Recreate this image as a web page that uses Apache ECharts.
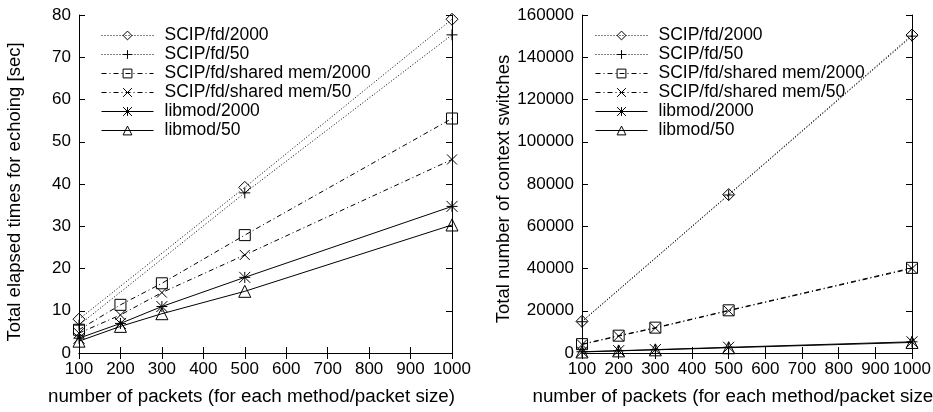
<!DOCTYPE html>
<html>
<head>
<meta charset="utf-8">
<script src="https://cdn.jsdelivr.net/npm/echarts@6/dist/echarts.min.js"></script>
<style>
html,body{margin:0;padding:0;background:#fff;}
#chart{width:933px;height:412px;}
</style>
</head>
<body>
<div id="chart"></div>
<script>
// ---- data ----
const seriesNames = ['SCIP/fd/2000','SCIP/fd/50','SCIP/fd/shared mem/2000','SCIP/fd/shared mem/50','libmod/2000','libmod/50'];
const packetsFd  = [100, 500, 1000];
const packetsAll = [100, 200, 300, 500, 1000];

// left: elapsed time [sec]
const timeFd2000  = [8.0, 39.2, 79.0];
const timeFd50    = [6.6, 37.9, 75.3];
const timeShm2000 = [5.5, 11.4, 16.5, 27.9, 55.5];
const timeShm50   = [4.7, 9.0, 14.3, 23.2, 45.8];
const timeLib2000 = [3.5, 7.0, 11.0, 17.9, 34.7];
const timeLib50   = [2.8, 6.3, 9.3, 14.6, 30.3];

// right: context switches
const csFd2000  = [15000, 75000, 150500];
const csFd50    = [14800, 74800, 150000];
const csShm2000 = [4200, 8200, 12000, 20200, 40300];
const csShm50   = [4000, 8000, 11800, 20000, 40000];
const csLib2000 = [600, 1100, 1600, 2700, 5300];
const csLib50   = [500, 1000, 1500, 2500, 5000];

const leftTitle  = 'Total elapsed times for echoing [sec]';
const rightTitle = 'Total number of context switches';
const xTitle     = 'number of packets (for each method/packet size)';

// ---- styles ----
const FONT = 'Liberation Sans';
const DOT = [1, 2];
const DASHDOT = [5, 3, 1, 3];
const SOLID = 'solid';
const symPlus = 'path://M5,0L5,10M0,5L10,5';
const symCross = 'path://M0,0L10,10M10,0L0,10';
const symStar = 'path://M0,0L10,10M10,0L0,10M5,0L5,10M0,5L10,5';
const styles = [
  {dash: DOT, symbol: 'diamond', size: 12},
  {dash: DOT, symbol: symPlus, size: 11},
  {dash: DASHDOT, symbol: 'rect', size: 11},
  {dash: DASHDOT, symbol: symCross, size: 10},
  {dash: SOLID, symbol: symStar, size: 11},
  {dash: SOLID, symbol: 'triangle', size: 12}
];

function pairs(xs, ys) { return xs.map((x, i) => [x, ys[i]]); }

function mkSeries(idx, gridIdx, xs, ys) {
  const s = styles[idx];
  return {
    name: seriesNames[idx],
    type: 'line',
    xAxisIndex: gridIdx * 2,
    yAxisIndex: gridIdx * 2,
    data: pairs(xs, ys),
    symbol: s.symbol,
    symbolSize: s.size,
    showSymbol: true,
    animation: false,
    lineStyle: {color: '#000', width: 1, type: s.dash},
    itemStyle: {color: 'rgba(0,0,0,0)', borderColor: '#000', borderWidth: 1},
    emphasis: {disabled: true},
    z: 3
  };
}

const grids = [
  {left: 79, right: 481, top: 15, bottom: 59, containLabel: false, outerBoundsMode: 'none'},
  {left: 582, right: 21, top: 15, bottom: 59, containLabel: false, outerBoundsMode: 'none'}
];

const axisLineStyle = {show: true, lineStyle: {color: '#000', width: 1}};
const tickStyle = {show: true, inside: true, length: 6, lineStyle: {color: '#000', width: 1}};
const labelStyle = {color: '#000', fontFamily: FONT, fontSize: 17, hideOverlap: false, formatter: v => String(v)};

function xAxes(gridIndex, titlePad) {
  return [
    {type: 'value', gridIndex, position: 'bottom', min: 100, max: 1000, interval: 100,
     axisLine: axisLineStyle, axisTick: tickStyle, splitLine: {show: false},
     axisLabel: Object.assign({margin: 8, interval: 0}, labelStyle),
     name: xTitle, nameLocation: 'middle', nameGap: 34,
     nameTextStyle: {color: '#000', fontFamily: FONT, fontSize: 18.8, padding: [0, titlePad, 0, 0]}},
    {type: 'value', gridIndex, position: 'top', min: 100, max: 1000, interval: 100,
     axisLine: axisLineStyle, axisTick: tickStyle, splitLine: {show: false},
     axisLabel: {show: false}}
  ];
}
function yAxes(gridIndex, max, interval, title, gap, pad) {
  return [
    {type: 'value', gridIndex, position: 'left', min: 0, max, interval,
     axisLine: axisLineStyle, axisTick: tickStyle, splitLine: {show: false},
     axisLabel: Object.assign({margin: 8}, labelStyle),
     name: title, nameLocation: 'middle', nameGap: gap, nameRotate: 90,
     nameTextStyle: {color: '#000', fontFamily: FONT, fontSize: 18.5, padding: [0, pad, 0, 0]}},
    {type: 'value', gridIndex, position: 'right', min: 0, max, interval,
     axisLine: axisLineStyle, axisTick: tickStyle, splitLine: {show: false},
     axisLabel: {show: false}}
  ];
}

function legend(left) {
  return {
    orient: 'vertical', left, top: 21,
    itemWidth: 52, itemHeight: 11, itemGap: 0,
    data: seriesNames,
    itemStyle: {borderWidth: 1},
    lineStyle: {width: 1},
    textStyle: {color: '#000', fontFamily: FONT, fontSize: 17.5, lineHeight: 19, padding: [0, 0, 0, 6]},
    selectedMode: false
  };
}

const series = [
  mkSeries(0, 0, packetsFd, timeFd2000),
  mkSeries(1, 0, packetsFd, timeFd50),
  mkSeries(2, 0, packetsAll, timeShm2000),
  mkSeries(3, 0, packetsAll, timeShm50),
  mkSeries(4, 0, packetsAll, timeLib2000),
  mkSeries(5, 0, packetsAll, timeLib50),
  mkSeries(0, 1, packetsFd, csFd2000),
  mkSeries(1, 1, packetsFd, csFd50),
  mkSeries(2, 1, packetsAll, csShm2000),
  mkSeries(3, 1, packetsAll, csShm50),
  mkSeries(4, 1, packetsAll, csLib2000),
  mkSeries(5, 1, packetsAll, csLib50)
];

const chart = echarts.init(document.getElementById('chart'), null, {renderer: 'canvas'});
chart.setOption({
  backgroundColor: '#fff',
  animation: false,
  grid: grids,
  xAxis: [...xAxes(0, 28), ...xAxes(1, 22)],
  yAxis: [...yAxes(0, 80, 10, leftTitle, 55, 16), ...yAxes(1, 160000, 20000, rightTitle, 68, 10)],
  legend: [legend(96), legend(590)],
  series
});
</script>
</body>
</html>
